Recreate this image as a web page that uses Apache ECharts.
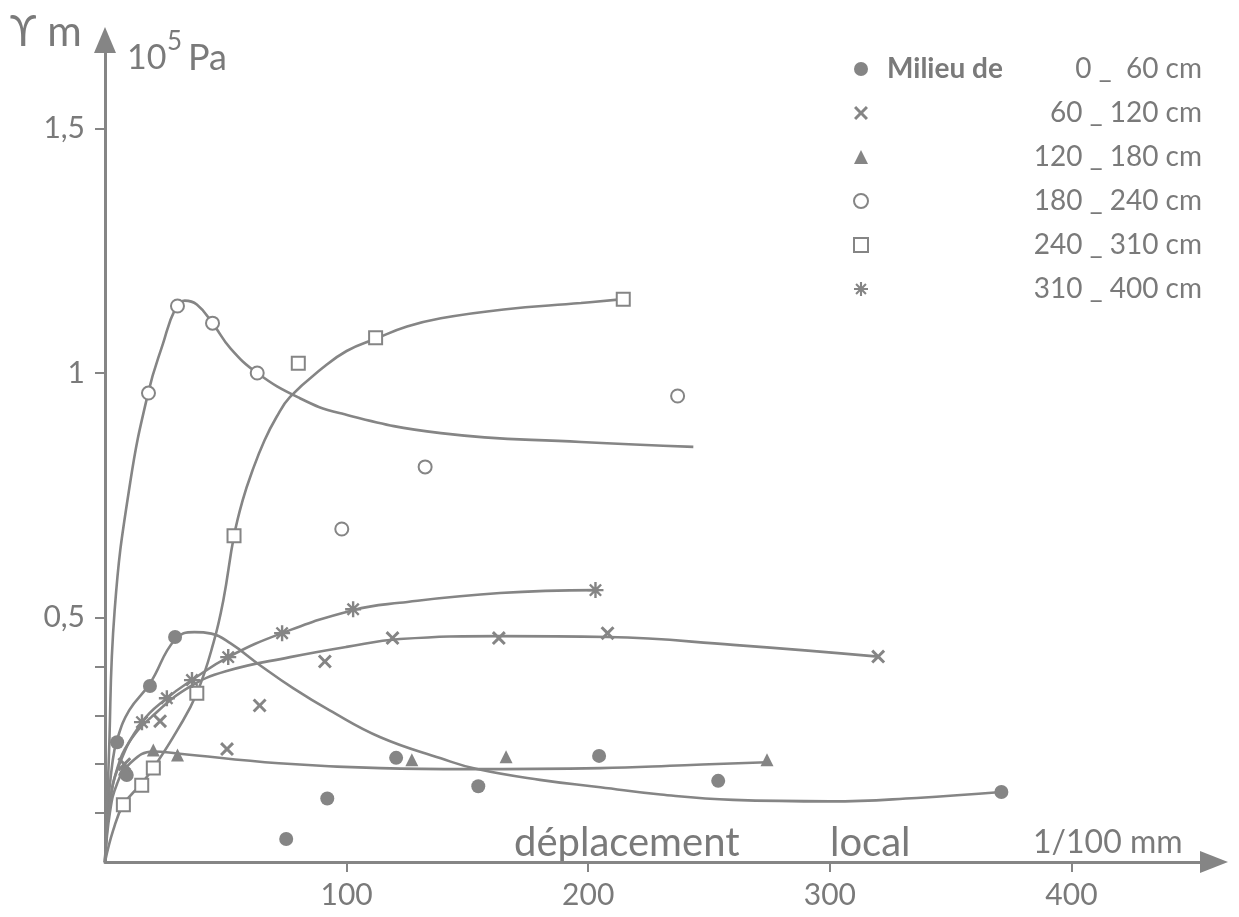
<!DOCTYPE html>
<html><head><meta charset="utf-8">
<script src="https://cdn.jsdelivr.net/npm/echarts@6/dist/echarts.min.js"></script>
<style>html,body{margin:0;padding:0;background:#fff}#c{width:1239px;height:917px}</style>
</head><body><div id="c"></div><script>
// ---- data (x: déplacement local, 1/100 mm ; y: tau m, 10^5 Pa) ----
const xTickValues = [100, 200, 300, 400];
const yTickValues = [0.1, 0.2, 0.3, 0.4, 0.5, 1, 1.5];
const yLabelValues = [0.5, 1, 1.5];
const seriesNames = ['0 _  60 cm', '60 _ 120 cm', '120 _ 180 cm', '180 _ 240 cm', '240 _ 310 cm', '310 _ 400 cm'];

// measured points
const pts0_60 = [[5,0.245],[9,0.178],[18.6,0.36],[29,0.46],[75,0.047],[92,0.13],[120.5,0.213],[154.5,0.155],[204.5,0.217],[253.8,0.166],[371,0.143]];
const pts60_120 = [[8,0.2],[22.8,0.288],[50.5,0.231],[64,0.32],[91,0.41],[119,0.458],[163,0.458],[208,0.468],[320,0.42]];
const pts120_180 = [[8,0.19],[20,0.229],[30,0.219],[127,0.209],[166,0.215],[274,0.209]];
const pts180_240 = [[18,0.959],[30,1.137],[44.5,1.102],[63,1.0],[98,0.681],[132.5,0.808],[237,0.953]];
const pts240_310 = [[7.6,0.117],[15.2,0.157],[20,0.192],[38,0.345],[53.4,0.667],[80,1.02],[112,1.072],[214.5,1.151]];
const pts310_400 = [[15.3,0.286],[25.6,0.335],[36,0.372],[51,0.419],[73.3,0.468],[102.7,0.517],[203,0.556]];

// hand-drawn fitted curves (traced)
const curve0_60 = [[0,0],[1,0.1],[3,0.2],[5,0.25],[10,0.31],[18.6,0.365],[29,0.455],[37,0.47],[44,0.467],[52,0.447],[64,0.403],[78,0.355],[93,0.31],[114,0.255],[139,0.212],[154,0.19],[180,0.168],[205,0.153],[230,0.138],[260,0.127],[300,0.124],[336,0.131],[371,0.143]];
const curve60_120 = [[0,0],[2,0.12],[5,0.19],[10,0.245],[20,0.3],[35,0.358],[50,0.39],[76.6,0.419],[100,0.44],[122,0.456],[163,0.462],[208,0.46],[260,0.444],[320,0.42]];
const curve120_180 = [[0,0],[2,0.1],[5,0.16],[10,0.2],[20,0.226],[30,0.222],[72,0.202],[114,0.192],[150,0.19],[205,0.192],[240,0.198],[274,0.204]];
const curve180_240 = [[0,0],[1.5,0.2],[4,0.515],[10.4,0.775],[18,0.962],[24,1.06],[29,1.13],[33,1.148],[38,1.14],[44.5,1.102],[52,1.05],[63,1.0],[80,0.95],[97,0.918],[139,0.877],[197,0.859],[243.5,0.849]];
const curve240_310 = [[0,0],[3.4,0.065],[7.6,0.117],[15,0.16],[20,0.192],[30,0.27],[38,0.345],[45,0.45],[49,0.536],[53.4,0.667],[57,0.74],[61,0.80],[66,0.862],[71,0.91],[76.6,0.951],[90,1.01],[100,1.045],[112,1.07],[125,1.095],[139,1.112],[165,1.13],[197,1.143],[214.5,1.151]];
const curve310_400 = [[0,0],[2,0.12],[6,0.2],[15.3,0.286],[25.6,0.335],[36,0.372],[51,0.419],[73.3,0.468],[102.7,0.515],[122,0.53],[163.5,0.55],[203,0.556]];

// ---- styling ----
const GREY = '#858585';
const TXT = '#7a7a7a';
const FONT = 'Lato';
const crossPath = 'path://M0,3 L3,0 L10,7 L17,0 L20,3 L13,10 L20,17 L17,20 L10,13 L3,20 L0,17 L7,10 Z';
const starPath = 'path://M8.5,0 H11.5 V6.4 L16,1.9 L18.1,4 L13.6,8.5 H20 V11.5 H13.6 L18.1,16 L16,18.1 L11.5,13.6 V20 H8.5 V13.6 L4,18.1 L1.9,16 L6.4,11.5 H0 V8.5 H6.4 L1.9,4 L4,1.9 L8.5,6.4 Z';

const groups = [
  {name: seriesNames[0], pts: pts0_60, curve: curve0_60, symbol: 'circle', size: 14, empty: false},
  {name: seriesNames[1], pts: pts60_120, curve: curve60_120, symbol: crossPath, size: 14, empty: false},
  {name: seriesNames[2], pts: pts120_180, curve: curve120_180, symbol: 'triangle', size: 13, empty: false},
  {name: seriesNames[3], pts: pts180_240, curve: curve180_240, symbol: 'emptyCircle', size: 13, empty: true},
  {name: seriesNames[4], pts: pts240_310, curve: curve240_310, symbol: 'emptyRect', size: 13, empty: true},
  {name: seriesNames[5], pts: pts310_400, curve: curve310_400, symbol: starPath, size: 16, empty: false}
];

const series = [];
groups.forEach(g => {
  series.push({
    type: 'line', name: g.name + ' curve', data: g.curve, smooth: 0.45, showSymbol: false,
    lineStyle: {color: GREY, width: 2.6}, itemStyle: {color: GREY}, z: 2, silent: true
  });
});
groups.forEach(g => {
  series.push({
    type: 'scatter', name: g.name, data: g.pts, symbol: g.symbol, symbolSize: g.size,
    itemStyle: {color: GREY, opacity: 1, borderWidth: g.empty ? 2.2 : 0, borderColor: GREY}, z: 5
  });
});

const chart = echarts.init(document.getElementById('c'), null, {renderer: 'canvas'});
chart.setOption({
  animation: false,
  backgroundColor: '#fff',
  grid: {left: 105, right: 25, top: 40, bottom: 55, containLabel: false},
  xAxis: {
    type: 'value', min: 0, max: 459,
    splitLine: {show: false},
    axisLine: {show: true, onZero: false, lineStyle: {color: GREY, width: 3}, symbol: ['none', 'triangle'], symbolSize: [22, 28]},
    axisTick: {show: true, customValues: xTickValues, length: 10, inside: false, lineStyle: {color: GREY, width: 2}},
    axisLabel: {show: true, customValues: xTickValues, margin: 18, color: TXT, fontSize: 30, fontFamily: FONT}
  },
  yAxis: {
    type: 'value', min: 0, max: 1.681,
    splitLine: {show: false},
    axisLine: {show: true, onZero: false, lineStyle: {color: GREY, width: 3}, symbol: ['none', 'triangle'], symbolSize: [22, 26]},
    axisTick: {show: true, customValues: yTickValues, length: 10, inside: false, lineStyle: {color: GREY, width: 2}},
    axisLabel: {show: true, customValues: yLabelValues, margin: 20, color: TXT, fontSize: 30, fontFamily: FONT,
      formatter: v => String(v).replace('.', ',')}
  },
  legend: {
    show: true, orient: 'vertical', left: 848, top: 50,
    data: seriesNames, itemWidth: 14, itemHeight: 14, itemGap: 16, selectedMode: false,
    formatter: name => '{sp| }{a|' + (name === seriesNames[0] ? 'Milieu de' : ' ') + '}{b|' + name + '}',
    textStyle: {
      color: TXT, fontFamily: FONT, fontSize: 28,
      rich: {
        sp: {width: 14, fontSize: 28, lineHeight: 30},
        a: {width: 112, color: TXT, fontFamily: FONT, fontSize: 28, fontWeight: 'bold', lineHeight: 30},
        b: {width: 203, align: 'right', color: TXT, fontFamily: FONT, fontSize: 28, lineHeight: 30}
      }
    }
  },
  graphic: [
    {type: 'text', x: 10, y: 32, style: {text: 'ϒ m', fill: TXT, font: '42px ' + FONT, verticalAlign: 'middle'}},
    {type: 'text', x: 127, y: 58, style: {text: '10', fill: TXT, font: '34px ' + FONT, verticalAlign: 'middle'}},
    {type: 'text', x: 167, y: 42, style: {text: '5', fill: TXT, font: '26px ' + FONT, verticalAlign: 'middle'}},
    {type: 'text', x: 188, y: 58, style: {text: 'Pa', fill: TXT, font: '36px ' + FONT, verticalAlign: 'middle'}},
    {type: 'text', x: 514, y: 843, style: {text: 'déplacement', fill: TXT, font: '40px ' + FONT, verticalAlign: 'middle'}},
    {type: 'text', x: 830, y: 843, style: {text: 'local', fill: TXT, font: '40px ' + FONT, verticalAlign: 'middle'}},
    {type: 'text', x: 1033, y: 843, style: {text: '1/100 mm', fill: TXT, font: '32px ' + FONT, verticalAlign: 'middle'}}
  ],
  series: series
});
</script></body></html>
